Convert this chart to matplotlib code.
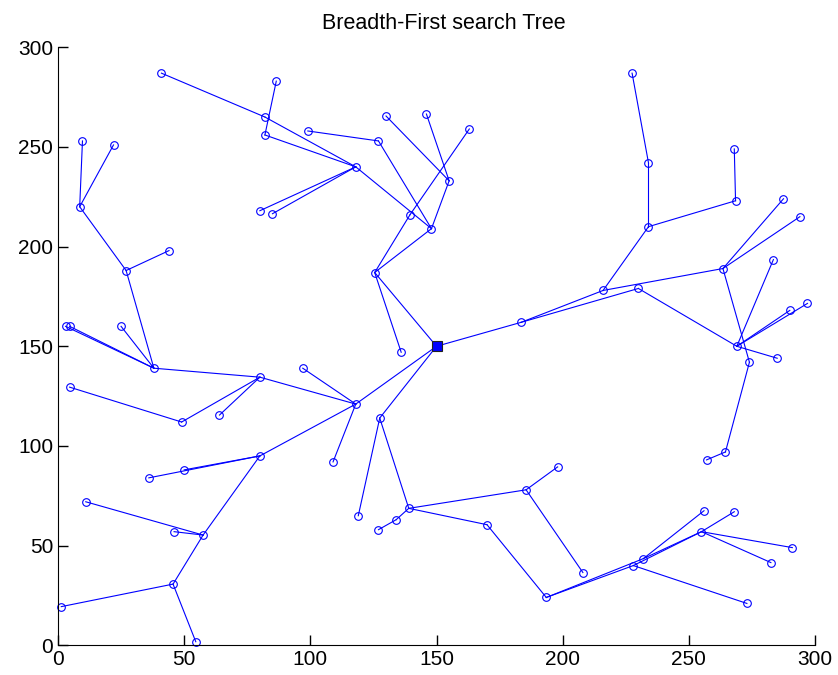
#Draws a breadth-first search tree over a set of random points,
#the start node is shown as a filled square and every edge as a line.

import numpy as np
import matplotlib.pyplot as plt

#Node coordinates (index 0 is the start node)
node_x = [150, 125.5, 183.5, 118, 127.5, 80, 136, 139.5, 148, 163,
          155, 130, 146, 127, 99, 118, 82, 41, 82, 86.5,
          80, 85, 216, 230, 234, 234, 227.5, 268.5, 268, 263.5,
          287.5, 294, 274, 264.5, 257, 269, 283.5, 290, 297, 285,
          109, 80, 97, 38, 3, 4.6, 25, 49, 64, 4.6,
          27, 44, 8.6, 9.7, 22, 119, 139, 134, 127, 170,
          185.5, 198, 208, 193.5, 228, 232, 255, 256, 268, 291,
          282.5, 273, 50, 36, 57.5, 11, 46, 45.6, 1.3, 54.6]
node_y = [150, 187, 162, 121, 114, 95, 147, 216, 209, 259,
          233, 265.5, 266.5, 253, 258, 240, 265, 287, 256, 283,
          218, 216.5, 178, 179, 210, 242, 287, 223, 249, 189,
          224, 215, 142, 97, 93, 150, 193.5, 168, 171.5, 144,
          92, 134.5, 139, 139, 160, 160, 160, 112, 115.5, 129.5,
          188, 198, 220, 253, 251, 65, 68.7, 63, 58, 60.5,
          78, 89.5, 36.5, 24, 40, 43.5, 57, 67.5, 67, 49,
          41.5, 21, 88, 84, 55.3, 72, 57, 30.7, 19.4, 1.8]

#Tree edges as (from, to) node indices
edge_from = [0, 0, 0, 0, 1, 1, 1, 7, 8, 8, 8, 10, 10, 13, 15, 15, 15, 15, 16, 18,
             2, 2, 22, 22, 24, 25, 24, 27, 29, 29, 29, 32, 33, 23, 35, 35, 35, 35,
             3, 3, 3, 3, 41, 41, 41, 47, 43, 43, 43, 43, 50, 50, 52, 52,
             4, 4, 56, 57, 56, 56, 60, 60, 59, 63, 63, 64, 65, 65, 64, 66, 66, 66,
             5, 5, 5, 74, 74, 74, 77, 77]
edge_to = [1, 2, 3, 4, 6, 7, 8, 9, 10, 13, 15, 11, 12, 14, 16, 18, 20, 21, 17, 19,
           22, 23, 24, 29, 25, 26, 27, 28, 30, 31, 32, 33, 34, 35, 36, 37, 38, 39,
           40, 41, 42, 5, 43, 47, 48, 49, 44, 45, 46, 50, 51, 52, 53, 54,
           55, 56, 57, 58, 59, 60, 61, 62, 63, 64, 65, 66, 66, 67, 71, 68, 69, 70,
           72, 73, 74, 75, 76, 77, 78, 79]

fig = plt.figure(figsize=(8.38, 6.75), dpi=100)
ax = fig.add_axes([0.0692, 0.044, 0.9034, 0.886])

#Plot every edge
for i, j in zip(edge_from, edge_to):
    ax.plot([node_x[i], node_x[j]], [node_y[i], node_y[j]], color='#0000ff', lw=0.8)

#Plot the nodes and the start node
ax.plot(node_x[1:], node_y[1:], 'o', ms=5.5, mfc='none', mec='#0000ff', mew=0.8, clip_on=False)
ax.plot(node_x[0], node_y[0], 's', ms=7, mfc='#0000ff', mec='#202020', mew=0.8, clip_on=False)

ax.set_xlim([0, 300])
ax.set_ylim([0, 300])
ax.set_xticks(np.arange(0, 301, 50))
ax.set_yticks(np.arange(0, 301, 50))
ax.spines['top'].set_visible(False)
ax.spines['right'].set_visible(False)
ax.tick_params(direction='in', length=7, width=1, labelsize=15)
for lab in ax.get_xticklabels() + ax.get_yticklabels():
    lab.set_fontfamily('Liberation Sans')
ax.set_title('Breadth-First search Tree', fontsize=15.5, fontfamily='Liberation Sans',
             pad=13, x=0.509)

plt.savefig('out.png', dpi=100)
